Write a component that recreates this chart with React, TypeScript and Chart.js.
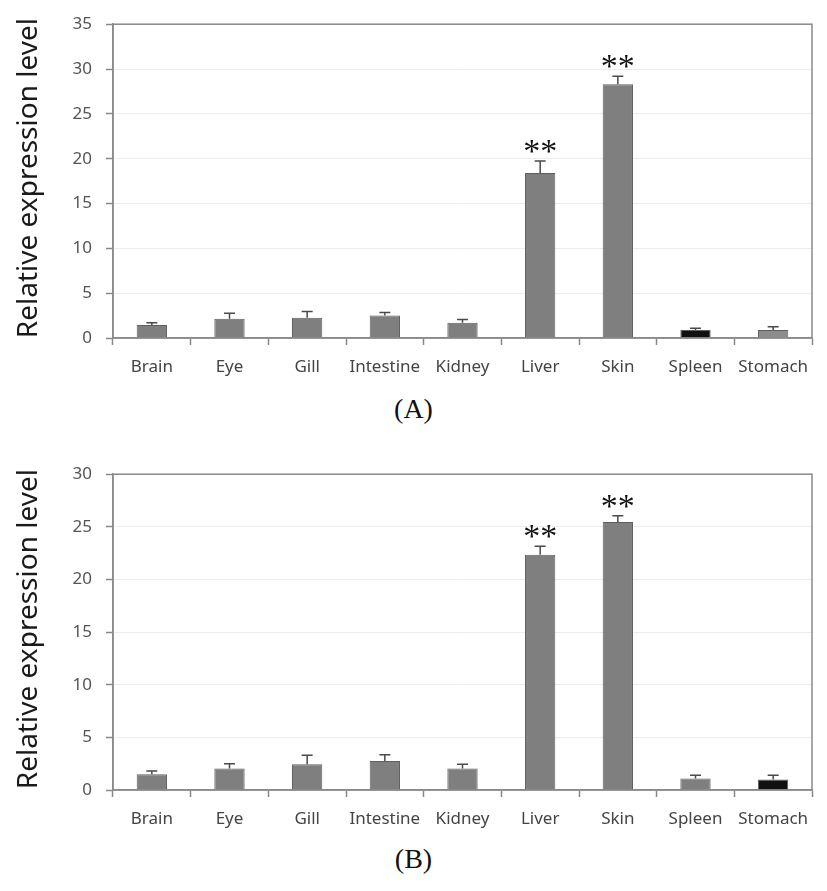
import React, { useEffect, useRef } from "react";
import { Chart, registerables } from "chart.js";

Chart.register(...registerables);

const categories = ["Brain", "Eye", "Gill", "Intestine", "Kidney", "Liver", "Skin", "Spleen", "Stomach"];

const valuesA = [1.45, 2.15, 2.25, 2.5, 1.7, 18.4, 28.3, 0.9, 0.9];
const errorsA = [0.25, 0.6, 0.7, 0.35, 0.35, 1.35, 0.9, 0.2, 0.35];
const sigA = ["", "", "", "", "", "**", "**", "", ""];
const colorsA = ["#7f7f7f", "#7f7f7f", "#7f7f7f", "#7f7f7f", "#7f7f7f", "#7f7f7f", "#7f7f7f", "#111111", "#8c8c8c"];

const valuesB = [1.5, 2.05, 2.45, 2.75, 2.05, 22.35, 25.45, 1.1, 1.0];
const errorsB = [0.3, 0.45, 0.85, 0.6, 0.4, 0.8, 0.6, 0.3, 0.4];
const sigB = ["", "", "", "", "", "**", "**", "", ""];
const colorsB = ["#7f7f7f", "#7f7f7f", "#7f7f7f", "#7f7f7f", "#7f7f7f", "#7f7f7f", "#7f7f7f", "#7f7f7f", "#111111"];

const yMaxA = 35;
const yMaxB = 30;
const yStep = 5;
const yTitle = "Relative expression level";

type PanelProps = {
  values: number[];
  errors: number[];
  sig: string[];
  colors: string[];
  yMax: number;
  height: number;
  padTop: number;
  xAxisHeight: number;
};

function Panel({ values, errors, sig, colors, yMax, height, padTop, xAxisHeight }: PanelProps) {
  const ref = useRef<HTMLCanvasElement | null>(null);
  useEffect(() => {
    if (!ref.current) return;
    const overlay = {
      id: "overlay",
      afterDatasetsDraw(chart: any) {
        const ctx = chart.ctx;
        const area = chart.chartArea;
        const ys = chart.scales.y;
        const meta = chart.getDatasetMeta(0);
        ctx.save();
        ctx.strokeStyle = "#8a8a8a";
        ctx.lineWidth = 1.5;
        ctx.strokeRect(area.left, area.top, area.right - area.left, area.bottom - area.top);
        meta.data.forEach((bar: any, i: number) => {
          const x = bar.x;
          const yTop = ys.getPixelForValue(values[i]);
          const yCap = ys.getPixelForValue(values[i] + errors[i]);
          ctx.strokeStyle = "#4a4a4a";
          ctx.lineWidth = 1.5;
          ctx.beginPath();
          ctx.moveTo(x, yTop);
          ctx.lineTo(x, yCap);
          ctx.moveTo(x - 5.5, yCap);
          ctx.lineTo(x + 5.5, yCap);
          ctx.stroke();
          if (sig[i]) {
            ctx.font = '34px "Liberation Serif", "DejaVu Serif", serif';
            ctx.fillStyle = "#111";
            ctx.textAlign = "center";
            ctx.textBaseline = "alphabetic";
            const m = ctx.measureText(sig[i]);
            const desc = m.actualBoundingBoxDescent || -9;
            ctx.fillText(sig[i], x, yCap - 8 - desc);
          }
        });
        // y-axis title
        ctx.translate(29, (area.top + area.bottom) / 2 - 3);
        ctx.rotate(-Math.PI / 2);
        ctx.font = '28px "Noto Sans", sans-serif';
        ctx.fillStyle = "#1a1a1a";
        ctx.textAlign = "center";
        ctx.textBaseline = "middle";
        ctx.fillText(yTitle, 0, 0);
        ctx.restore();
      },
    };
    const chart = new Chart(ref.current, {
      type: "bar",
      data: {
        labels: categories,
        datasets: [
          {
            data: values,
            backgroundColor: colors,
            borderColor: "#5e5e5e",
            borderWidth: 1,
            barPercentage: 0.39,
            categoryPercentage: 1,
          },
        ],
      },
      options: {
        animation: false,
        responsive: false,
        maintainAspectRatio: false,
        layout: { padding: { top: padTop, right: 15, left: 0, bottom: 0 } },
        plugins: { legend: { display: false }, tooltip: { enabled: false } },
        scales: {
          x: {
            offset: true,
            grid: { display: true, drawOnChartArea: false, offset: true, tickLength: 7, tickColor: "#888", tickWidth: 1.5 },
            border: { color: "#888", width: 1.5 },
            ticks: { color: "#444", font: { family: '"Noto Sans", sans-serif', size: 17 }, padding: 12, maxRotation: 0, autoSkip: false },
            afterFit(scale: any) {
              scale.height = xAxisHeight;
            },
          },
          y: {
            min: 0,
            max: yMax,
            ticks: { stepSize: yStep, color: "#555", font: { family: '"Noto Sans", sans-serif', size: 17 }, padding: 14 },
            grid: { color: "#ececec", lineWidth: 1, tickLength: 7, tickColor: "#888", tickWidth: 1.5 },
            border: { color: "#888", width: 1.5 },
            title: { display: false },
            afterFit(scale: any) {
              scale.width = 113;
            },
          },
        },
      },
      plugins: [overlay],
    });
    return () => chart.destroy();
  }, []);
  return <canvas ref={ref} width={827} height={height} style={{ display: "block", width: 827, height }} />;
}

const labelStyle: React.CSSProperties = {
  position: "absolute",
  left: 0,
  width: 827,
  textAlign: "center",
  fontFamily: '"Liberation Serif", "DejaVu Serif", serif',
  fontSize: 28,
  color: "#111",
  lineHeight: "30px",
};

export default function App() {
  return (
    <div style={{ position: "absolute", left: 0, top: 0, width: 827, height: 891, background: "#fff" }}>
      <div style={{ position: "absolute", left: 0, top: 0 }}>
        <Panel values={valuesA} errors={errorsA} sig={sigA} colors={colorsA} yMax={yMaxA} height={385} padTop={15} xAxisHeight={47} />
      </div>
      <div style={{ ...labelStyle, top: 394 }}>(A)</div>
      <div style={{ position: "absolute", left: 0, top: 450 }}>
        <Panel values={valuesB} errors={errorsB} sig={sigB} colors={colorsB} yMax={yMaxB} height={390} padTop={17} xAxisHeight={50} />
      </div>
      <div style={{ ...labelStyle, top: 844 }}>(B)</div>
    </div>
  );
}
